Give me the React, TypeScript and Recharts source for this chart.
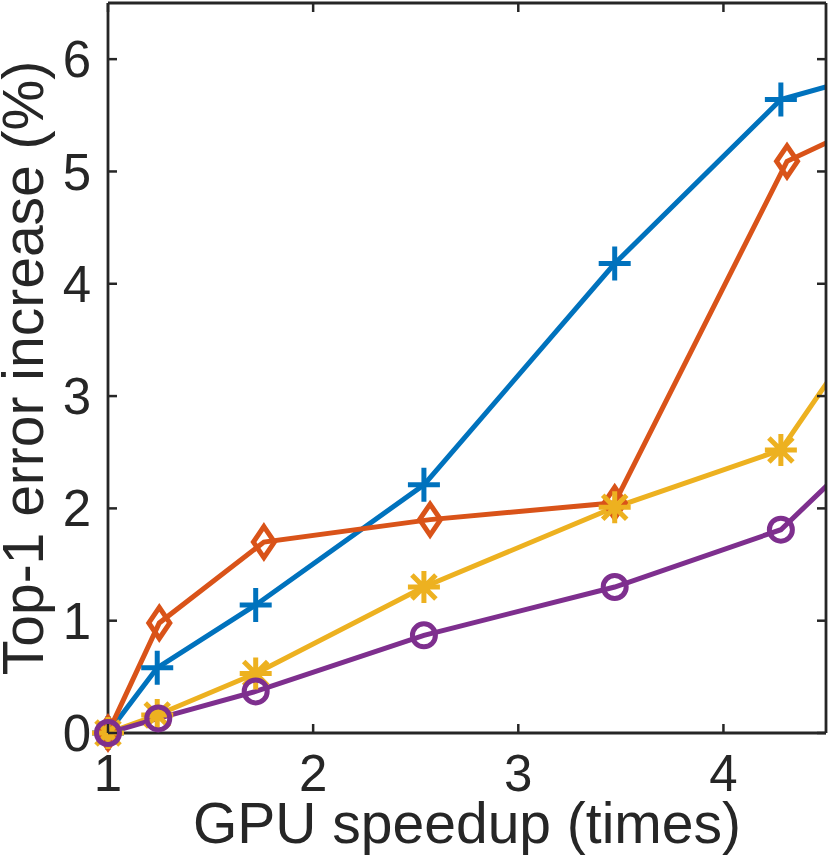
import { Line, LineChart, XAxis, YAxis } from 'recharts'

// Values. The last point of each series lies beyond
// the right edge of the axes (x = 5) and is only seen through the clipped line.
const blueX = [1, 1.24, 1.72, 2.54, 3.47, 4.28, 5]
const blueY = [0, 0.58, 1.14, 2.21, 4.18, 5.64, 6.01]
const orangeX = [1, 1.25, 1.76, 2.57, 3.47, 4.31, 5]
const orangeY = [0, 0.98, 1.7, 1.9, 2.05, 5.09, 5.68]
const yellowX = [1, 1.24, 1.72, 2.54, 3.47, 4.28, 5]
const yellowY = [0, 0.16, 0.53, 1.3, 2.01, 2.52, 4.44]
const purpleX = [1, 1.245, 1.72, 2.54, 3.47, 4.28, 5]
const purpleY = [0, 0.13, 0.37, 0.87, 1.3, 1.81, 3.07]

const xDomain = [1, 4.5]
const yDomain = [0, 6.5]
const xTicks = [1, 2, 3, 4]
const yTicks = [0, 1, 2, 3, 4, 5, 6]

const toPoints = (xs: number[], ys: number[]) =>
  xs.map((x, i) => ({ x, y: ys[i] }))

const INK = '#262626'
const FONT = '"Liberation Sans", Helvetica, Arial, sans-serif'
const LINE_W = 5
const TICK_LEN = 9
const TICK_FONT = 51
const LABEL_FONT = 57
const X_TICK_GAP = 21.5
const Y_TICK_GAP = 17

type Shape = 'plus' | 'diamond' | 'asterisk' | 'circle'

const series: { key: string; color: string; shape: Shape; data: { x: number; y: number }[] }[] = [
  { key: 'blue', color: '#0072BD', shape: 'plus', data: toPoints(blueX, blueY) },
  { key: 'orange', color: '#D95319', shape: 'diamond', data: toPoints(orangeX, orangeY) },
  { key: 'yellow', color: '#EDB120', shape: 'asterisk', data: toPoints(yellowX, yellowY) },
  { key: 'purple', color: '#7E2F8E', shape: 'circle', data: toPoints(purpleX, purpleY) },
]

function Marker(props: any) {
  const { cx, cy, shape, color } = props
  if (cx == null || cy == null) return null
  const common = { stroke: color, strokeWidth: LINE_W, fill: 'none' }
  if (shape === 'plus') {
    return <path d={`M${cx - 16},${cy}H${cx + 16}M${cx},${cy - 17}V${cy + 17}`} {...common} />
  }
  if (shape === 'diamond') {
    return (
      <path
        d={`M${cx},${cy - 15.5}L${cx + 10.5},${cy}L${cx},${cy + 15.5}L${cx - 10.5},${cy}Z`}
        {...common}
      />
    )
  }
  if (shape === 'asterisk') {
    return (
      <path
        d={
          `M${cx - 16},${cy}H${cx + 16}M${cx},${cy - 16}V${cy + 16}` +
          `M${cx - 12},${cy - 12}L${cx + 12},${cy + 12}M${cx - 12},${cy + 12}L${cx + 12},${cy - 12}`
        }
        {...common}
      />
    )
  }
  return <circle cx={cx} cy={cy} r={11.5} {...common} />
}

// MATLAB-style ticks: short marks pointing into the plot box
const tickMark = { stroke: INK, strokeWidth: 2.5 }

const BottomTick = (props: any) => {
  const { x, y, payload } = props
  const axisY = y - X_TICK_GAP
  return (
    <g>
      <line x1={x} x2={x} y1={axisY} y2={axisY - TICK_LEN} {...tickMark} />
      <text x={x} y={y} dy="0.71em" textAnchor="middle" fill={INK} fontSize={TICK_FONT} fontFamily={FONT}>
        {payload.value}
      </text>
    </g>
  )
}

const LeftTick = (props: any) => {
  const { x, y, payload } = props
  const axisX = x + Y_TICK_GAP
  return (
    <g>
      <line x1={axisX} x2={axisX + TICK_LEN} y1={y} y2={y} {...tickMark} />
      <text x={x} y={y} dy="0.355em" textAnchor="end" fill={INK} fontSize={TICK_FONT} fontFamily={FONT}>
        {payload.value}
      </text>
    </g>
  )
}

const TopTick = (props: any) => {
  const { x, y } = props
  return <line x1={x} x2={x} y1={y} y2={y + TICK_LEN} {...tickMark} />
}

const RightTick = (props: any) => {
  const { x, y } = props
  return <line x1={x} x2={x - TICK_LEN} y1={y} y2={y} {...tickMark} />
}

const axisLine = { stroke: INK, strokeWidth: 2.8 }

export default function App() {
  return (
    <div style={{ position: 'absolute', left: 0, top: 0, background: '#fff' }}>
      <LineChart width={830} height={859} margin={{ top: 2, right: 3, bottom: 0, left: 0 }}>
        {/* main axes clip the lines at the box edge */}
        <XAxis
          xAxisId="main"
          dataKey="x"
          type="number"
          domain={xDomain}
          allowDataOverflow
          ticks={xTicks}
          interval={0}
          height={126}
          tickSize={0}
          tickMargin={X_TICK_GAP}
          tickLine={false}
          tick={BottomTick}
          axisLine={axisLine}
          label={{
            value: 'GPU speedup (times)',
            position: 'insideBottom',
            offset: 16,
            fill: INK,
            fontSize: LABEL_FONT,
            fontFamily: FONT,
          }}
        />
        <YAxis
          yAxisId="main"
          type="number"
          domain={yDomain}
          allowDataOverflow
          ticks={yTicks}
          interval={0}
          width={108}
          tickSize={0}
          tickMargin={Y_TICK_GAP}
          tickLine={false}
          tick={LeftTick}
          axisLine={axisLine}
          label={{
            value: 'Top-1 error increase (%)',
            angle: -90,
            position: 'insideLeft',
            offset: 23,
            fill: INK,
            fontSize: LABEL_FONT,
            fontFamily: FONT,
            style: { textAnchor: 'middle' },
          }}
        />
        {/* top/right axes close the box; markers use them so they are not clipped */}
        <XAxis
          xAxisId="top"
          orientation="top"
          dataKey="x"
          type="number"
          domain={xDomain}
          ticks={xTicks}
          interval={0}
          height={1}
          tickSize={0}
          tickMargin={0}
          tickLine={false}
          tick={TopTick}
          axisLine={axisLine}
        />
        <YAxis
          yAxisId="right"
          orientation="right"
          type="number"
          domain={yDomain}
          ticks={yTicks}
          interval={0}
          width={1}
          tickSize={0}
          tickMargin={0}
          tickLine={false}
          tick={RightTick}
          axisLine={axisLine}
        />
        {series.flatMap((s) => [
          <Line
            key={`${s.key}-line`}
            xAxisId="main"
            yAxisId="main"
            data={s.data}
            dataKey="y"
            type="linear"
            stroke={s.color}
            strokeWidth={LINE_W}
            dot={false}
            activeDot={false}
            isAnimationActive={false}
          />,
          <Line
            key={`${s.key}-markers`}
            xAxisId="top"
            yAxisId="right"
            data={s.data.filter((d) => d.x <= xDomain[1])}
            dataKey="y"
            type="linear"
            stroke="none"
            dot={<Marker shape={s.shape} color={s.color} />}
            activeDot={false}
            isAnimationActive={false}
          />,
        ])}
      </LineChart>
    </div>
  )
}
